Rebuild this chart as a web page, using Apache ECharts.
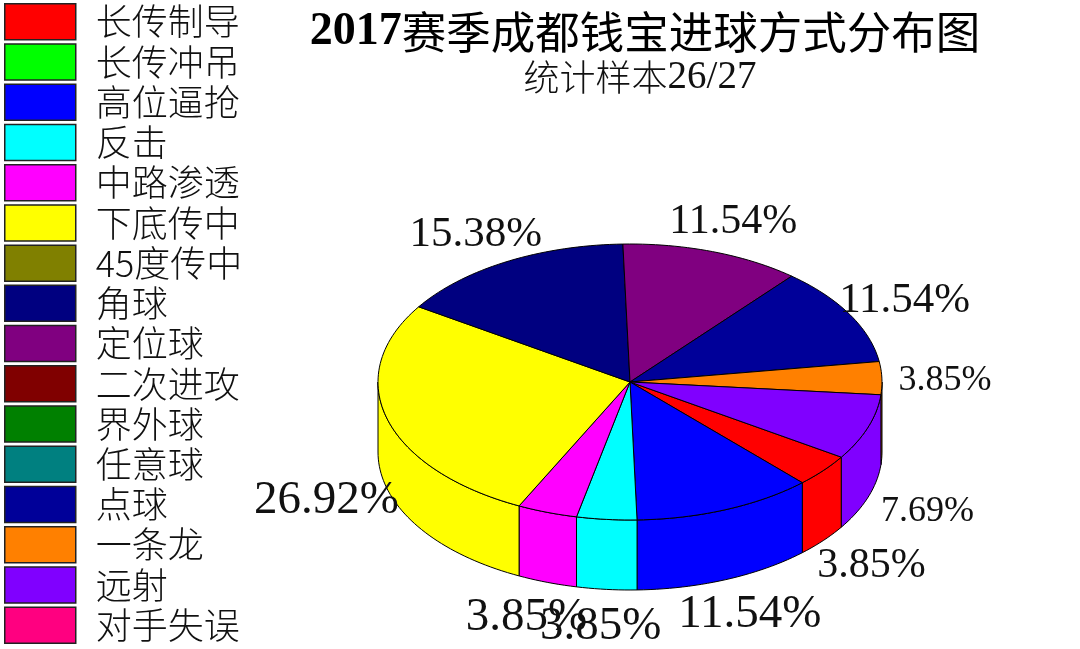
<!DOCTYPE html>
<html><head><meta charset="utf-8">
<style>html,body{margin:0;padding:0;background:#fff}#c{width:1080px;height:649px}</style>
<script src="https://cdn.jsdelivr.net/npm/echarts@6/dist/echarts.min.js"></script>
</head><body><div id="c"></div>
<script>
const categories = ['长传制导','长传冲吊','高位逼抢','反击','中路渗透','下底传中','45度传中','角球','定位球','二次进攻','界外球','任意球','点球','一条龙','远射','对手失误'];
const shares = [3.85,0,11.54,3.85,3.85,26.92,0,15.38,11.54,0,0,0,11.54,3.85,7.69,0];
const colors = ['#ff0000','#00ff00','#0000ff','#00ffff','#ff00ff','#ffff00','#808000','#000080','#800080','#800000','#008000','#008080','#000099','#ff8000','#8000ff','#ff0080'];
const labelSizes = [42,0,47,47,47,47,0,43,42,0,0,0,43,36,36,0];

const CX=630, CY=382, RX=252, RY=138, DEPTH=70, LABEL_K=1.25, LABEL_DY=3, START=33;
const SERIF='"Liberation Serif","Noto Sans CJK SC",serif', CJK='"Noto Sans CJK SC",sans-serif';
const total = shares.reduce((a,b)=>a+b,0);
const rad = d=>d*Math.PI/180;
const pt = (d,dy=0,k=1)=>[CX+RX*k*Math.cos(rad(d)), CY+RY*k*Math.sin(rad(d))+dy];
function arc(a0,a1,dy){const n=Math.max(2,Math.ceil((a1-a0)/1.5)),o=[];for(let i=0;i<=n;i++)o.push(pt(a0+(a1-a0)*i/n,dy));return o;}
const line={stroke:'#000',lineWidth:1,lineJoin:'round'};
function wall(a0,a1,fill){
  return {type:'polygon',shape:{points:arc(a0,a1,0).concat(arc(a0,a1,DEPTH).reverse())},style:Object.assign({fill},line)};
}
function makeRender(i,startAngle){
  return function(){
    const sweep=shares[i]/total*360, end=startAngle+sweep, kids=[];
    if(!sweep) return {type:'group',children:[]};
    // front wall: parts of the slice whose rim lies in the lower half of the ellipse
    [[0,180],[360,540]].forEach(([lo,hi])=>{
      const a=Math.max(startAngle,lo), b=Math.min(end,hi);
      if(b>a) kids.push(wall(a,b,colors[i]));
    });
    kids.push({type:'polygon',shape:{points:[[CX,CY]].concat(arc(startAngle,end,0))},style:Object.assign({fill:colors[i]},line)});
    const mid=startAngle+sweep/2, s=Math.sin(rad(mid));
    const p=pt(mid,(s>0?DEPTH:0)+LABEL_DY,LABEL_K);
    kids.push({type:'text',z2:100,style:{text:shares[i].toFixed(2)+'%',x:p[0],y:p[1],align:'center',verticalAlign:'middle',font:labelSizes[i]+'px '+SERIF,fill:'#111'}});
    return {type:'group',children:kids};
  };
}
let acc=START;
const series=categories.map((name,i)=>{
  const s={type:'custom',name,coordinateSystem:'none',silent:true,animation:false,
    itemStyle:{color:colors[i]},data:[[shares[i]]],renderItem:makeRender(i,acc)};
  acc+=shares[i]/total*360;
  return s;
});
const chart=echarts.init(document.getElementById('c'),null,{renderer:'canvas'});
chart.setOption({
  backgroundColor:'#fff',animation:false,
  title:[{
    text:'{d|2017}{c|赛季成都钱宝进球方式分布图}',left:640,top:4,textAlign:'center',
    textStyle:{fontWeight:'normal',rich:{d:{fontFamily:SERIF,fontSize:46,fontWeight:'bold',color:'#000'},c:{fontFamily:CJK,fontSize:44.5,fontWeight:400,color:'#000'}}}
  },{
    text:'{c|统计样本}{d|26/27}',left:635,top:53,textAlign:'center',
    textStyle:{fontWeight:'normal',rich:{d:{fontFamily:SERIF,fontSize:39,fontWeight:'normal',color:'#111'},c:{fontFamily:CJK,fontSize:36,fontWeight:300,color:'#111'}}}
  }],
  legend:{orient:'vertical',left:4,top:3,padding:0,height:649,itemWidth:71,itemHeight:36,itemGap:2.73,icon:'rect',selectedMode:false,
    itemStyle:{borderColor:'#222',borderWidth:1.5},
    textStyle:{fontFamily:CJK,fontSize:36,fontWeight:300,color:'#111',padding:[0,0,0,15],lineHeight:36},
    data:categories},
  series
});
</script></body></html>
